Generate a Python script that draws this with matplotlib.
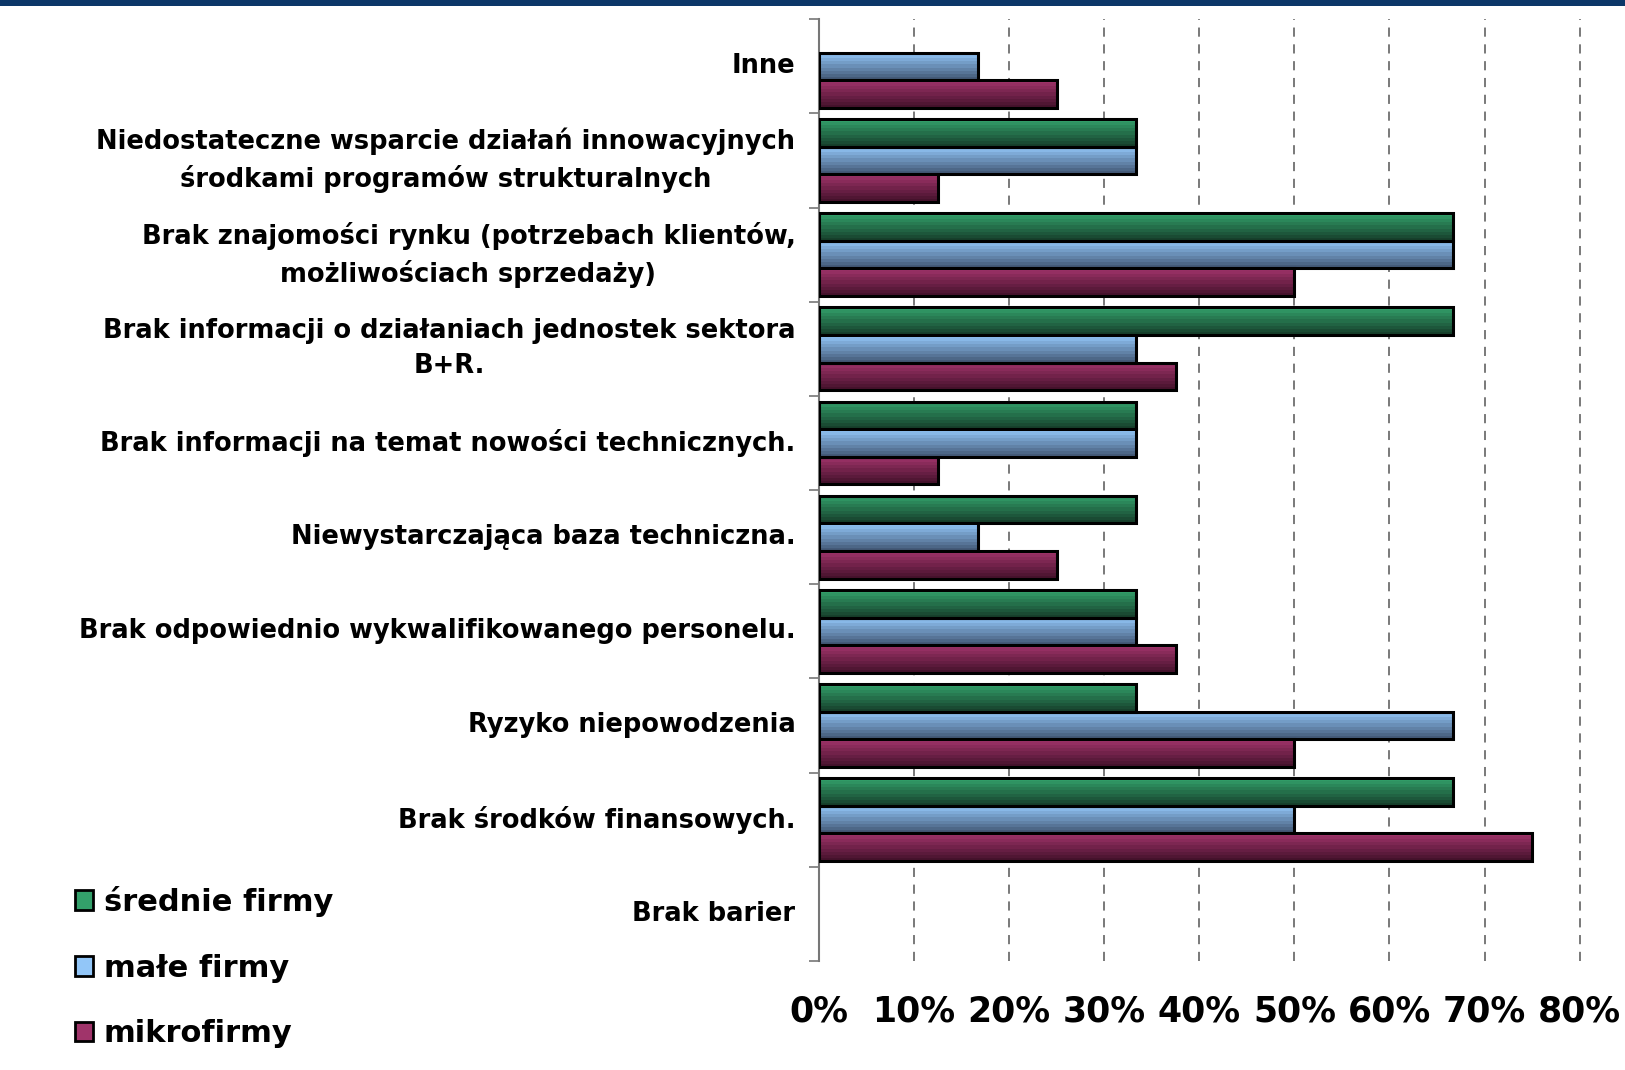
import numpy as np
import matplotlib
matplotlib.use("Agg")
import matplotlib.pyplot as plt
from matplotlib.patches import Rectangle, Patch
from matplotlib.colors import LinearSegmentedColormap

categories = [
    "Inne",
    "Niedostateczne wsparcie działań innowacyjnych\nśrodkami programów strukturalnych",
    "Brak znajomości rynku (potrzebach klientów,\nmożliwościach sprzedaży)",
    "Brak informacji o działaniach jednostek sektora\nB+R.",
    "Brak informacji na temat nowości technicznych.",
    "Niewystarczająca baza techniczna.",
    "Brak odpowiednio wykwalifikowanego personelu.",
    "Ryzyko niepowodzenia",
    "Brak środków finansowych.",
    "Brak barier",
]
srednie = [0.0, 33.3, 66.7, 66.7, 33.3, 33.3, 33.3, 33.3, 66.7, 0.0]
male = [16.7, 33.3, 66.7, 33.3, 33.3, 16.7, 33.3, 66.7, 50.0, 0.0]
mikro = [25.0, 12.5, 50.0, 37.5, 12.5, 25.0, 37.5, 50.0, 75.0, 0.0]
series_names = ["średnie firmy", "małe firmy", "mikrofirmy"]
x_ticks = [0, 10, 20, 30, 40, 50, 60, 70, 80]

# gradient colours (top, bottom)
grads = [("#33a06a", "#17402c"), ("#92c6f8", "#445a78"), ("#a0346a", "#45122c")]

fig = plt.figure(figsize=(16.25, 10.7), dpi=100)
ax = fig.add_axes([0.504, 0.102, 0.471, 0.880])

# dark band across the top
fig.patches.append(Rectangle((0, 1 - 6 / 1070), 1, 6 / 1070, transform=fig.transFigure,
                             facecolor="#0c3768", edgecolor="none", zorder=5))

y = np.arange(len(categories))
h = 0.293
offsets = [-h, 0, h]
for vals, off, (c_top, c_bot) in zip([srednie, male, mikro], offsets, grads):
    cmap = LinearSegmentedColormap.from_list("g", [c_top, c_bot])
    grad = np.linspace(0, 1, 9).reshape(-1, 1)
    for yi, v in zip(y, vals):
        if v <= 0:
            continue
        y0 = yi + off - h / 2
        ax.imshow(grad, cmap=cmap, aspect="auto", interpolation="nearest",
                  extent=[0, v, y0 + h, y0], origin="upper", zorder=2)
        ax.add_patch(Rectangle((0, y0), v, h, facecolor="none", edgecolor="black",
                               linewidth=2.2, zorder=3))

ax.set_xlim(0, 80.5)
ax.set_ylim(len(categories) - 0.5, -0.5)

for xv in x_ticks[1:]:
    ax.axvline(xv, color="#555555", linewidth=1.1, linestyle=(0, (6, 5)), zorder=1)

ax.set_xticks(x_ticks)
ax.set_xticklabels([f"{t}%" for t in x_ticks], family="DejaVu Sans",
                   fontweight="bold", fontsize=25)
ax.tick_params(axis="x", length=0, pad=24)

ax.set_yticks(y)
ax.set_yticklabels(categories, fontsize=18.5, fontweight="bold", family="DejaVu Sans",
                   multialignment="center", linespacing=1.45, va="center")
ax.set_yticks(np.arange(len(categories) + 1) - 0.5, minor=True)
ax.tick_params(axis="y", which="major", length=0, pad=17)
ax.tick_params(axis="y", which="minor", length=7, color="#777777", width=1.2)

for s in ["top", "right", "bottom"]:
    ax.spines[s].set_visible(False)
ax.spines["left"].set_color("#777777")
ax.spines["left"].set_linewidth(1.5)

handles = [Patch(facecolor=g[0], edgecolor="black", linewidth=2) for g in grads]
fig.legend(handles, series_names, loc="upper left", bbox_to_anchor=(0.046, 0.172),
           frameon=False, prop={"family": "DejaVu Sans", "weight": "bold", "size": 22},
           handlelength=0.6, handleheight=0.6, handletextpad=0.35, labelspacing=1.2,
           borderpad=0, borderaxespad=0)

fig.savefig("out.png", dpi=100)
